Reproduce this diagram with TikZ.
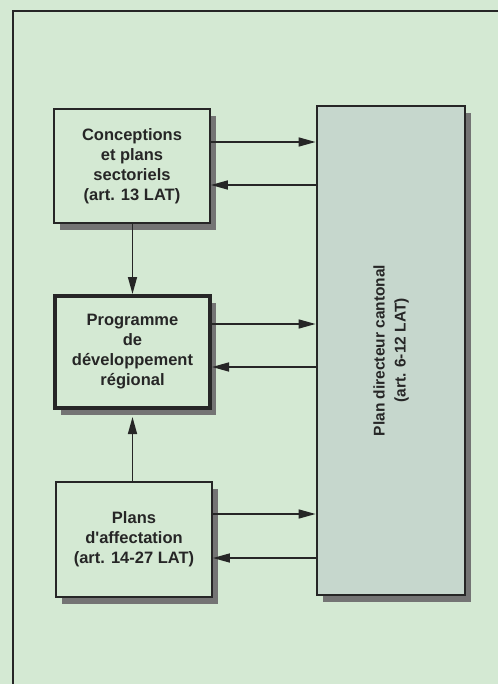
\documentclass[tikz,border=0pt]{standalone}
\usepackage{fontspec}
\newfontfamily\lab{Liberation Sans Bold}
\usetikzlibrary{arrows.meta,shadows}
\definecolor{bg}{HTML}{D4E9D3}
\definecolor{bigfill}{HTML}{C6D7CD}
\definecolor{ink}{HTML}{262626}
\definecolor{shade}{HTML}{747474}
\begin{document}
\begin{tikzpicture}[x=1pt,y=-1pt,
  boxstyle/.style={draw=ink, line width=1.8pt, fill=bg, align=center, text=ink,
    font=\lab\fontsize{16.5}{20}\selectfont, inner sep=0pt,
    drop shadow={shadow xshift=6pt, shadow yshift=-7pt, fill=shade, opacity=1}},
  arr/.style={draw=ink, line width=1.5pt, -{Triangle[length=17pt,width=9pt]}}
]
\fill[bg] (0,0) rectangle (498,684);
\useasboundingbox (0,0) rectangle (498,684);
\draw[ink, line width=1.5pt] (498,11) -- (13,11) -- (13,684);

\node[boxstyle, minimum width=156pt, minimum height=114pt] (b1) at (132,166)
  {Conceptions\\et plans\\sectoriels\\(art. 13 LAT)};
\node[boxstyle, line width=4pt, minimum width=155pt, minimum height=112pt] (b2) at (132.5,352)
  {Programme\\de\\développement\\régional};
\node[boxstyle, minimum width=156pt, minimum height=115pt] (b3) at (134,539.5)
  {Plans\\d'affectation\\(art. 14-27 LAT)};
\node[boxstyle, fill=bigfill, line width=2.8pt, minimum width=148pt, minimum height=489pt] (big) at (391,350.5)
  {};
\node[rotate=90, align=center, text=ink, font=\lab\fontsize{15.5}{21}\selectfont] (bigtext) at (big.center)
  {Plan directeur cantonal\\(art. 6-12 LAT)};

\coordinate (p1) at ([yshift=24pt]b1.east);
\coordinate (q1) at ([yshift=-19pt]b1.east);
\coordinate (p2) at ([yshift=28pt]b2.east);
\coordinate (q2) at ([yshift=-15pt]b2.east);
\coordinate (p3) at ([yshift=25.5pt]b3.east);
\coordinate (q3) at ([yshift=-18.5pt]b3.east);

\draw[arr] (p1) -- (p1 -| big.west);
\draw[arr] (q1 -| big.west) -- (q1);
\draw[arr] (p2) -- (p2 -| big.west);
\draw[arr] (q2 -| big.west) -- (q2);
\draw[arr] (p3) -- (p3 -| big.west);
\draw[arr] (q3 -| big.west) -- (q3);

\draw[arr] (b1.south -| b2.north) -- (b2.north);
\coordinate (b2low) at ([yshift=-7pt]b2.south);
\draw[arr] (b3.north -| b2.south) -- (b2low);
\end{tikzpicture}
\end{document}
